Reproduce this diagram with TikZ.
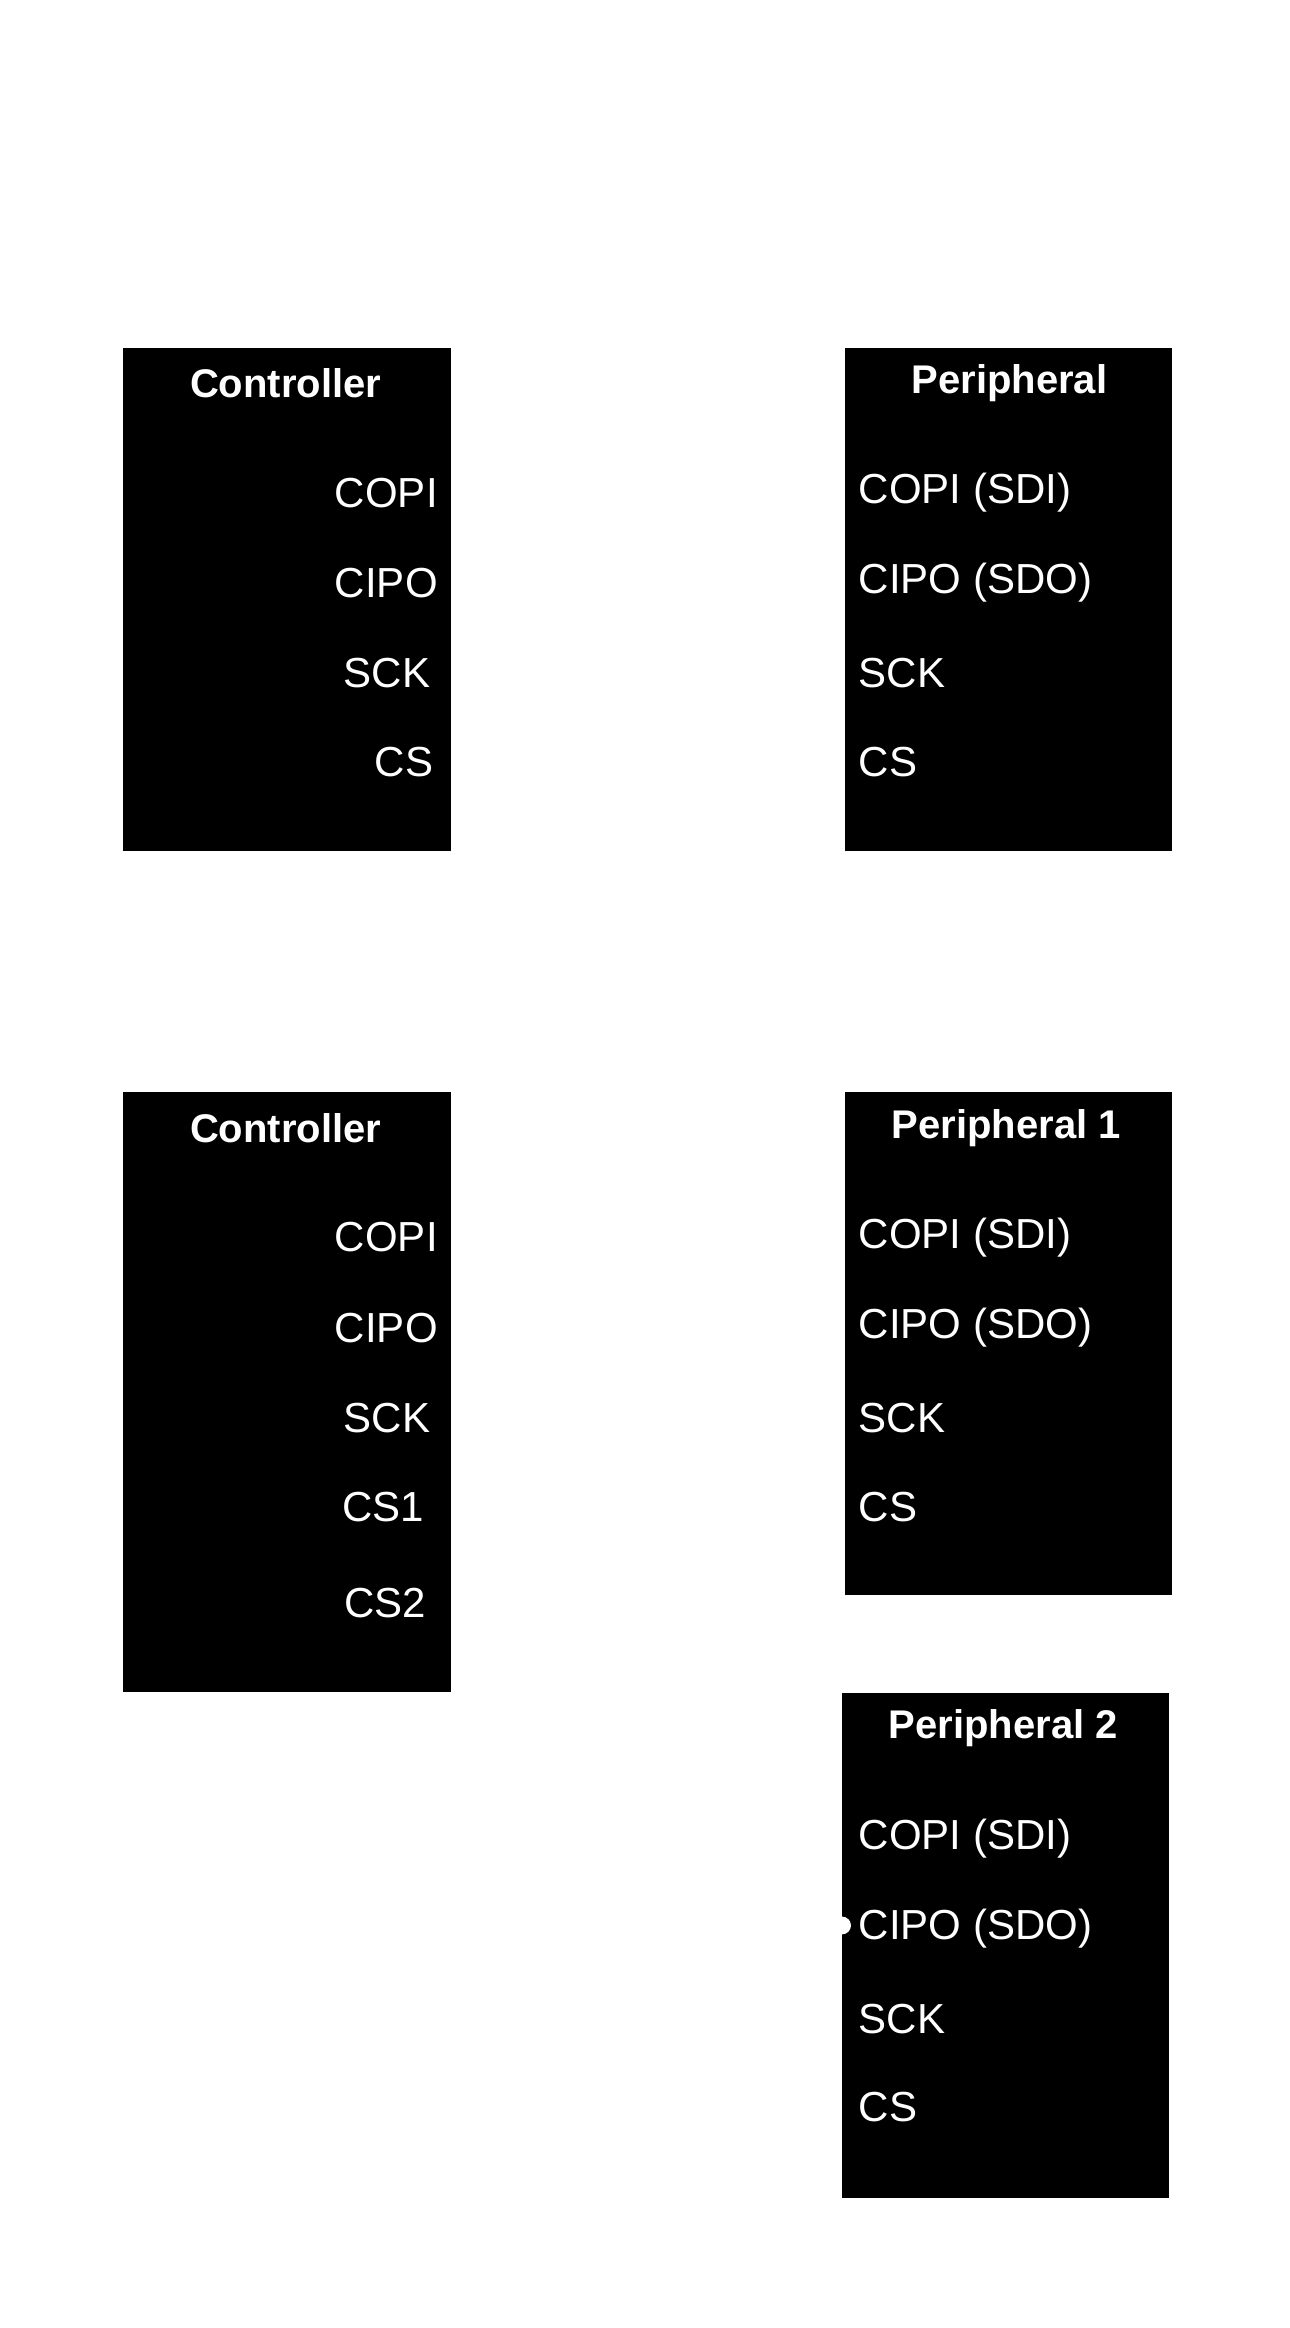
\documentclass[tikz,border=0pt]{standalone}
\usepackage{fontspec}
\setmainfont{Liberation Sans}
\begin{document}
\begin{tikzpicture}[x=0.74pt,y=-0.74pt,
  box/.style={fill=black,draw=none},
  lbl/.style={text=white,font=\fontsize{21}{24}\selectfont,inner sep=0pt},
  ttl/.style={text=white,font=\bfseries\fontsize{20}{24}\selectfont,inner sep=0pt}]
\useasboundingbox (0,0) rectangle (871.6,1573);
\fill[box] (83,235) rectangle (305,575);
\fill[box] (571,235) rectangle (792,575);
\fill[box] (83,738) rectangle (305,1143);
\fill[box] (571,738) rectangle (792,1078);
\fill[box] (569,1144) rectangle (790,1485);
% controller 1
\node[ttl] (c1t) at (193,259) {Controller};
\node[lbl,anchor=east] (c1a) at (296,333) {COPI};
\node[lbl,anchor=east] (c1b) at (296,394) {CIPO};
\node[lbl,anchor=east] (c1c) at (291,455) {SCK};
\node[lbl,anchor=east] (c1d) at (293,515) {CS};
% peripheral
\node[ttl] (p1t) at (682,259) {Peripheral};
\node[lbl,anchor=west] (p1a) at (580,333) {COPI (SDI)};
\node[lbl,anchor=west] (p1b) at (580,394) {CIPO (SDO)};
\node[lbl,anchor=west] (p1c) at (580,455) {SCK};
\node[lbl,anchor=west] (p1d) at (580,515) {CS};
% controller 2
\node[ttl] (c2t) at (193,762) {Controller};
\node[lbl,anchor=east] (c2a) at (296,836) {COPI};
\node[lbl,anchor=east] (c2b) at (296,897) {CIPO};
\node[lbl,anchor=east] (c2c) at (291,958) {SCK};
\node[lbl,anchor=east] (c2d) at (287,1018) {CS1};
\node[lbl,anchor=east] (c2e) at (288,1083) {CS2};
% peripheral 1
\node[ttl] (q1t) at (680,762) {Peripheral 1};
\node[lbl,anchor=west] (q1a) at (580,836) {COPI (SDI)};
\node[lbl,anchor=west] (q1b) at (580,897) {CIPO (SDO)};
\node[lbl,anchor=west] (q1c) at (580,958) {SCK};
\node[lbl,anchor=west] (q1d) at (580,1018) {CS};
% peripheral 2
\node[ttl] (q2t) at (678,1168) {Peripheral 2};
\node[lbl,anchor=west] (q2a) at (580,1242) {COPI (SDI)};
\node[lbl,anchor=west] (q2b) at (580,1303) {CIPO (SDO)};
\node[lbl,anchor=west] (q2c) at (580,1364) {SCK};
\node[lbl,anchor=west] (q2d) at (580,1424) {CS};
\fill[white] (569,1301) circle (6);
\end{tikzpicture}
\end{document}
